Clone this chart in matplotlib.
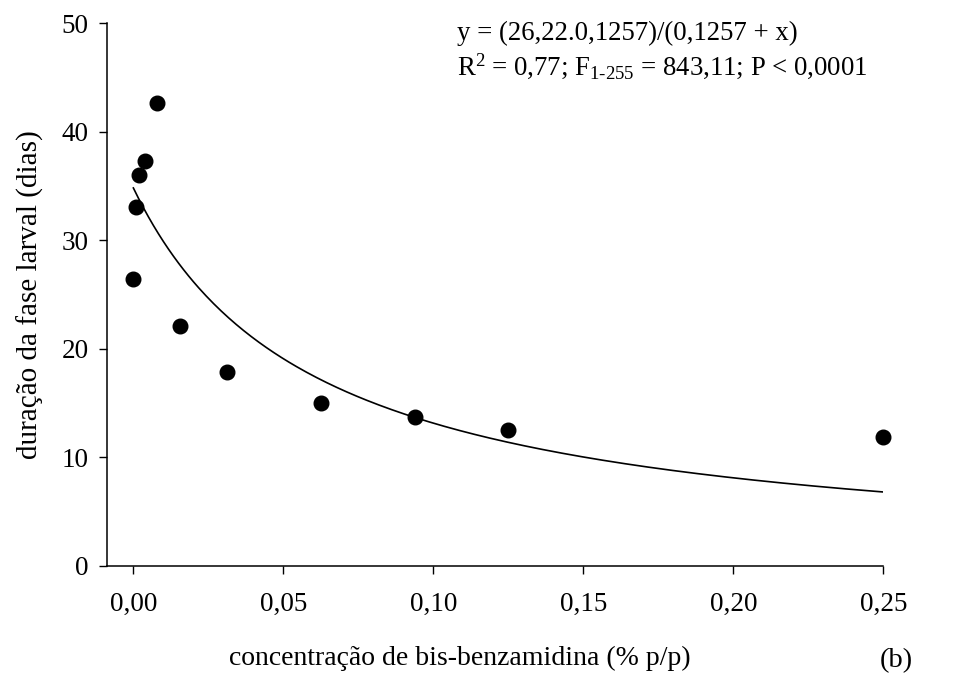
import numpy as np
import matplotlib
matplotlib.use("Agg")
import matplotlib.pyplot as plt

plt.rcParams['font.family'] = ['Liberation Serif', 'DejaVu Serif']
plt.rcParams['mathtext.fontset'] = 'custom'
plt.rcParams['mathtext.rm'] = 'Liberation Serif'
plt.rcParams['mathtext.it'] = 'Liberation Serif'

# concentration (% p/p) and larval stage duration (days)
concentracao = [0.0, 0.00098, 0.00195, 0.0039, 0.0078, 0.0156, 0.03125,
                0.0625, 0.09375, 0.125, 0.25]
duracao = [26.43, 33.04, 35.99, 37.31, 42.68, 22.10, 17.88,
           15.03, 13.74, 12.51, 11.89]

# fitted hyperbola y = a*b/(b + x)
ajuste_a = 34.82
ajuste_b = 0.0606

x_ticks = [0.0, 0.05, 0.10, 0.15, 0.20, 0.25]
x_ticklabels = ['0,00', '0,05', '0,10', '0,15', '0,20', '0,25']
y_ticks = [0, 10, 20, 30, 40, 50]

fig = plt.figure(figsize=(9.68, 6.79), dpi=100)
ax = fig.add_axes([0.1102, 0.1669, 0.8023, 0.7988])

xc = np.linspace(0, 0.25, 300)
ax.plot(xc, ajuste_a * ajuste_b / (ajuste_b + xc), color='black', lw=1.2)
ax.plot(concentracao, duracao, 'o', color='black', ms=10.5, clip_on=False)

ax.set_xlim(-0.0089, 0.25)
ax.set_ylim(0, 50)
ax.set_xticks(x_ticks)
ax.set_xticklabels(x_ticklabels)
ax.set_yticks(y_ticks)
for s in ['top', 'right']:
    ax.spines[s].set_visible(False)
for s in ['left', 'bottom']:
    ax.spines[s].set_linewidth(1.1)
ax.tick_params(direction='out', length=6, width=1.0, labelsize=19.5, pad=7)
ax.tick_params(axis='x', pad=13)

fig.text(460 / 968, 1 - 658 / 679, 'concentração de bis-benzamidina (% p/p)',
         fontsize=20, va='center', ha='center')
fig.text(30 / 968, 1 - 295 / 679, 'duração da fase larval (dias)',
         fontsize=21, va='center', ha='center', rotation=90)

fig.text(457 / 968, 1 - 40 / 679, 'y = (26,22.0,1257)/(0,1257 + x)',
         fontsize=19.3, va='baseline', ha='left')
fig.text(457 / 968, 1 - 75 / 679,
         r'R$^{2}$ = 0,77; F$_{1\text{-}255}$ = 843,11; P < 0,0001',
         fontsize=19.3, va='baseline', ha='left')
fig.text(913 / 968, 1 - 661 / 679, '(b)', fontsize=20.5, va='center', ha='right')

fig.savefig('out.png', dpi=100)
